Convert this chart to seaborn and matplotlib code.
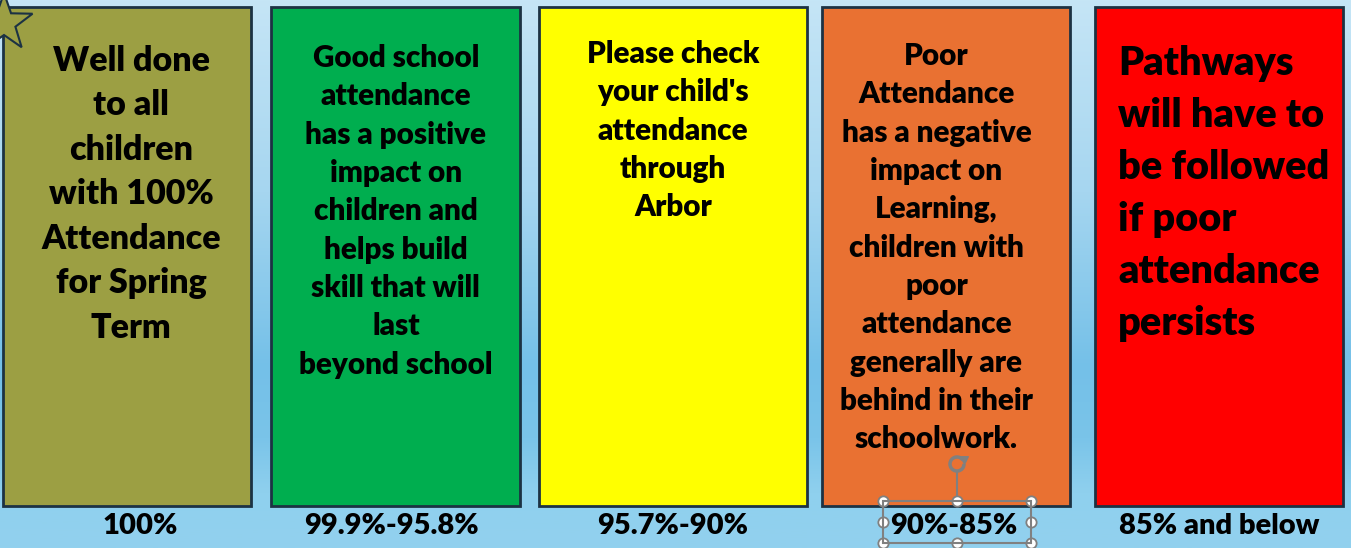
import numpy as np
import pandas as pd
import matplotlib.pyplot as plt
import seaborn as sns
from matplotlib.colors import LinearSegmentedColormap
from matplotlib.patches import Polygon, Rectangle, Arc
from matplotlib.path import Path

# attendance bands
ranges = ['100%', '99.9%-95.8%', '95.7%-90%', '90%-85%', '85% and below']
heights = [1, 1, 1, 1, 1]
colours = ['#9c9f43', '#00ae4f', '#ffff00', '#e97132', '#ff0000']
messages = [
    'Well done\nto all\nchildren\nwith 100%\nAttendance\nfor Spring\nTerm',
    'Good school\nattendance\nhas a positive\nimpact on\nchildren and\nhelps build\nskill that will\nlast\nbeyond school',
    "Please check\nyour child's\nattendance\nthrough\nArbor",
    'Poor\nAttendance\nhas a negative\nimpact on\nLearning,\nchildren with\npoor\nattendance\ngenerally are\nbehind in their\nschoolwork.',
    'Pathways\nwill have to\nbe followed\nif poor\nattendance\npersists',
]

W, H = 1351, 548
sns.set_theme(style='white')
plt.rcParams['font.family'] = ['Lato', 'DejaVu Sans']

fig = plt.figure(figsize=(W / 100, H / 100), dpi=100)
ax = fig.add_axes([0, 0, 1, 1])

# sky blue backdrop
bg = LinearSegmentedColormap.from_list('bg', [(0, '#c5e5f6'), (0.35, '#a6d6f0'), (0.67, '#74c0e8'),
                                              (0.8, '#7ac4e9'), (0.9, '#8fd0ee'), (1, '#92d1ee')])
grad = np.linspace(0, 1, 256).reshape(-1, 1)
ax.imshow(grad, cmap=bg, extent=[0, 1, 0, 1], transform=ax.transAxes, aspect='auto', zorder=0)

df = pd.DataFrame({'range': ranges, 'h': heights})
sns.barplot(data=df, x='range', y='h', hue='range', palette=colours, legend=False,
            width=0.91, saturation=1, edgecolor='#1c3243', linewidth=2, ax=ax, zorder=2)

# yellow panel is a little wider, green one sits a touch left
p = ax.patches[2]
cx = p.get_x() + p.get_width() / 2
p.set_width(0.98)
p.set_x(cx - 0.49)
ax.patches[1].set_x(ax.patches[1].get_x() - 0.017)

ax.set_xlim(-0.465, 4.4835)
ax.set_ylim(-0.084, 1.014)
ax.axis('off')

def py(y):
    return (506 - y) / 499

# messages
sizes = [24.5, 21.3, 21.3, 21.3, 28.5]
tops = [45, 44, 40, 42, 45]
spacing = [1.48, 1.45, 1.45, 1.45, 1.5]
shifts = [0.015, -0.015, 0, -0.035, 0]
for i, msg in enumerate(messages):
    if i == 4:
        ax.text(i - 0.37, py(tops[i]), msg, ha='left', va='top', fontsize=sizes[i],
                fontweight='heavy', linespacing=spacing[i], color='black', zorder=3)
    else:
        ax.text(i + shifts[i], py(tops[i]), msg, ha='center', va='top', fontsize=sizes[i],
                fontweight='heavy', linespacing=spacing[i], color='black', zorder=3,
                multialignment='center')

label_shift = [0.05, -0.03, 0, 0.03, 0]
for i, r in enumerate(ranges):
    ax.text(i + label_shift[i], py(526), r, ha='center', va='center', fontsize=21,
            fontweight='heavy', color='black', zorder=3)

def fp(x, y):
    return (x / W, 1 - y / H)

# star in the corner
star = Path.unit_regular_star(5, 0.4).vertices[:-1]
pts = [fp(4 + 30 * vx, 23 - 30 * vy) for vx, vy in star]
fig.patches.append(Polygon(pts, closed=True, facecolor='#9c9f43', edgecolor='#1c3243',
                           linewidth=1.5, transform=fig.transFigure, zorder=4))

# selection handles on the 90%-85% label
fig.patches.append(Rectangle(fp(883, 543), 148 / W, 42 / H, fill=False, edgecolor='#808080',
                             linewidth=1.5, transform=fig.transFigure, zorder=4))
ax.plot(*zip(fp(957, 471), fp(957, 501)), color='#808080', lw=1.5, transform=fig.transFigure, zorder=4)
hx = [883, 957, 1031, 883, 1031, 883, 957, 1031]
hy = [501, 501, 501, 522, 522, 543, 543, 543]
ax.scatter([x / W for x in hx], [1 - y / H for y in hy], s=55, facecolor='white', edgecolor='#808080',
           linewidth=1.3, transform=fig.transFigure, zorder=5, clip_on=False)
ax.add_patch(Arc(fp(957, 464), 14 / W, 14 / H, theta1=60, theta2=360, edgecolor='#808080', lw=2.5,
                 transform=fig.transFigure, zorder=5))
ax.scatter([964 / W], [1 - 460 / H], marker='v', s=30, color='#808080', transform=fig.transFigure, zorder=5)

fig.savefig('out.png', dpi=100)
